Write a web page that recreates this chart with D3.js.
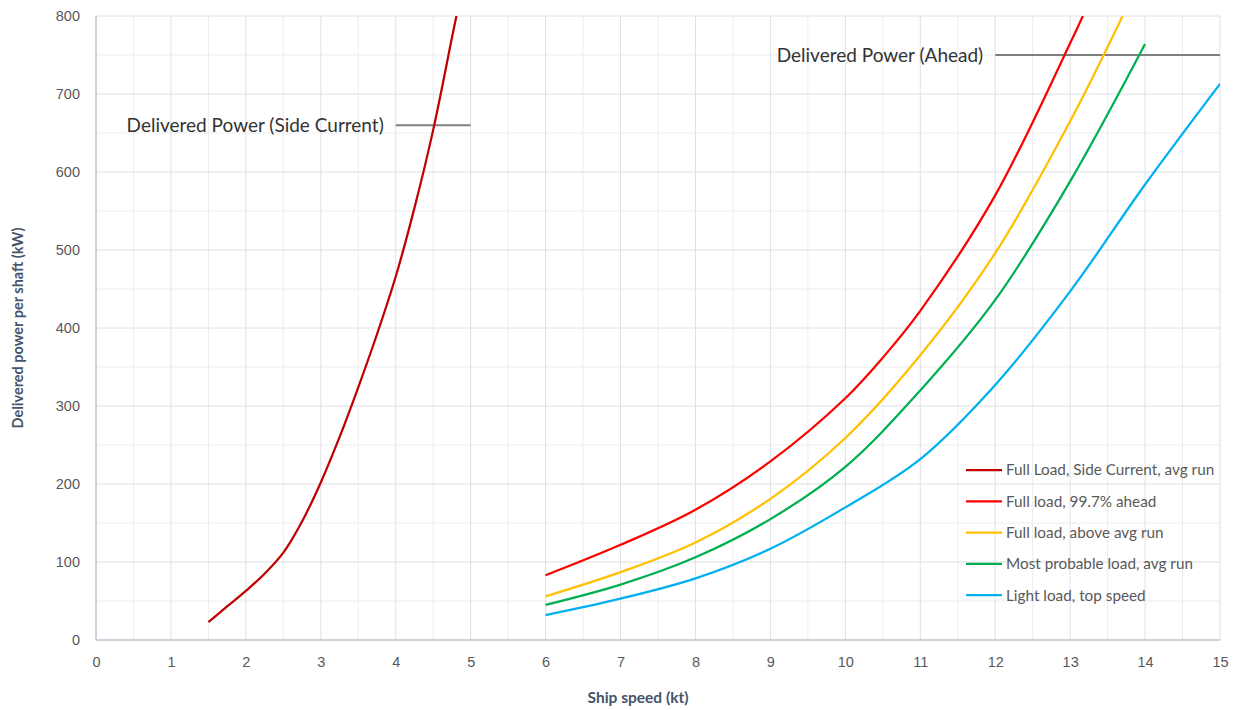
<!DOCTYPE html>
<html>
<head>
<meta charset="utf-8">
<script src="https://cdn.jsdelivr.net/npm/d3@7"></script>
<style>
  body { margin: 0; background: #fff; }
  svg { font-family: Lato, "Open Sans", sans-serif; }
</style>
</head>
<body>
<svg width="1238" height="710"></svg>
<script>
//-- data --//
const sideCurrent = [[1.5, 23], [1.75, 43], [2, 63], [2.25, 85], [2.5, 112], [2.75, 152], [3, 202],
  [3.25, 260], [3.5, 324], [3.75, 392], [4, 466], [4.25, 554], [4.5, 654], [4.75, 772], [4.81, 800]];
const fullAhead = [[6, 83], [7, 122], [8, 167], [9, 229], [10, 310], [10.5, 362], [11, 422], [12, 570],
  [13, 765], [13.17, 800]];
const fullAboveAvg = [[6, 56], [7, 87], [8, 125], [9, 181], [10, 259], [11, 365], [12, 496], [13, 665],
  [13.7, 800]];
const mostProbable = [[6, 45], [7, 71], [8, 106], [9, 155], [10, 222], [11, 320], [12, 436], [13, 588],
  [14, 764]];
const lightLoad = [[6, 32], [7, 53], [8, 79], [9, 117], [10, 170], [11, 232], [12, 327], [13, 447],
  [14, 584], [15, 713]];

const seriesNames = ["Full Load, Side Current, avg run", "Full load, 99.7% ahead", "Full load, above avg run",
  "Most probable load, avg run", "Light load, top speed"];
const seriesColors = ["#c00000", "#ff0000", "#ffc000", "#00b050", "#00b0f0"];

const xTicks = d3.range(0, 16);
const yTicks = d3.range(0, 900, 100);

// reference lines: [label, speed from, speed to, power]
const refLines = [["Delivered Power (Side Current)", 4, 5, 660], ["Delivered Power (Ahead)", 12, 15, 750]];

const series = [sideCurrent, fullAhead, fullAboveAvg, mostProbable, lightLoad]
  .map((values, i) => ({name: seriesNames[i], color: seriesColors[i], values}));

const margin = {top: 16, right: 18, bottom: 70, left: 96};
const width = 1238;
const height = 710;

const x = d3.scaleLinear()
  .domain([0, 15])
  .range([margin.left, width - margin.right]);

const y = d3.scaleLinear()
  .domain([0, 800])
  .range([height - margin.bottom, margin.top]);

const svg = d3.select("svg");

//-- grid --//
const grid = svg.append("g");
grid.selectAll(".vminor")
  .data(d3.range(0.5, 15, 1))
  .join("line")
  .attr("x1", d => x(d)).attr("x2", d => x(d))
  .attr("y1", y(0)).attr("y2", y(800))
  .attr("stroke", "#ededf0");
grid.selectAll(".hminor")
  .data(d3.range(50, 800, 100))
  .join("line")
  .attr("y1", d => y(d)).attr("y2", d => y(d))
  .attr("x1", x(0)).attr("x2", x(15))
  .attr("stroke", "#ededf0");
grid.selectAll(".vmajor")
  .data(xTicks.slice(1))
  .join("line")
  .attr("x1", d => x(d)).attr("x2", d => x(d))
  .attr("y1", y(0)).attr("y2", y(800))
  .attr("stroke", "#dfe0e6");
grid.selectAll(".hmajor")
  .data(yTicks.slice(1))
  .join("line")
  .attr("y1", d => y(d)).attr("y2", d => y(d))
  .attr("x1", x(0)).attr("x2", x(15))
  .attr("stroke", "#dfe0e6");

//-- axes --//
const xAxis = g => g
  .attr("transform", `translate(0,${y(0)})`)
  .call(d3.axisBottom(x).tickValues(xTicks).tickSize(0).tickPadding(17))
  .call(g => g.select(".domain").remove())
  .call(g => g.selectAll("text").attr("fill", "#595959").style("font-size", "14.5px"));

const yAxis = g => g
  .attr("transform", `translate(${x(0)},0)`)
  .call(d3.axisLeft(y).tickValues(yTicks).tickSize(0).tickPadding(16))
  .call(g => g.select(".domain").remove())
  .call(g => g.selectAll("text").attr("fill", "#595959").style("font-size", "14.5px"));

svg.append("g").call(xAxis);
svg.append("g").call(yAxis);

svg.append("line")
  .attr("x1", x(0)).attr("x2", x(15))
  .attr("y1", y(0)).attr("y2", y(0))
  .attr("stroke", "#bfc3d0").attr("stroke-width", 1.5);
svg.append("line")
  .attr("x1", x(0)).attr("x2", x(0))
  .attr("y1", y(0)).attr("y2", y(800))
  .attr("stroke", "#bfc3d0").attr("stroke-width", 1.5);

svg.append("text")
  .attr("x", 638).attr("y", 703)
  .attr("text-anchor", "middle")
  .attr("fill", "#44546a")
  .style("font-size", "15.5px").style("font-weight", "bold")
  .text("Ship speed (kt)");

svg.append("text")
  .attr("transform", `translate(23,${(y(0) + y(800)) / 2}) rotate(-90)`)
  .attr("text-anchor", "middle")
  .attr("fill", "#44546a")
  .style("font-size", "14.5px").style("font-weight", "bold")
  .text("Delivered power per shaft (kW)");

//-- reference lines --//
const refs = svg.append("g")
  .selectAll("g")
  .data(refLines)
  .join("g");

refs.append("line")
  .attr("x1", d => x(d[1])).attr("x2", d => x(d[2]))
  .attr("y1", d => y(d[3])).attr("y2", d => y(d[3]))
  .attr("stroke", "#7f7f7f").attr("stroke-width", 2);

refs.append("text")
  .attr("x", d => x(d[1]) - 12)
  .attr("y", d => y(d[3]))
  .attr("dy", "0.35em")
  .attr("text-anchor", "end")
  .attr("fill", "#333")
  .style("font-size", "19px")
  .text(d => d[0]);

//-- curves --//
svg.append("clipPath").attr("id", "plot")
  .append("rect")
  .attr("x", x(0)).attr("y", y(800))
  .attr("width", x(15) - x(0)).attr("height", y(0) - y(800));

const line = d3.line()
  .x(d => x(d[0]))
  .y(d => y(d[1]))
  .curve(d3.curveCatmullRom.alpha(0.5));

svg.append("g")
  .attr("clip-path", "url(#plot)")
  .selectAll("path")
  .data(series)
  .join("path")
  .attr("fill", "none")
  .attr("stroke", d => d.color)
  .attr("stroke-width", 2.25)
  .attr("stroke-linejoin", "round")
  .attr("d", d => line(d.values));

//-- legend --//
const legend = svg.append("g")
  .selectAll("g")
  .data(series)
  .join("g")
  .attr("transform", (d, i) => `translate(966,${470 + i * 31.3})`);

legend.append("line")
  .attr("x1", 0).attr("x2", 36)
  .attr("stroke", d => d.color)
  .attr("stroke-width", 2.25);

legend.append("text")
  .attr("x", 40)
  .attr("dy", "0.35em")
  .attr("fill", "#595959")
  .style("font-size", "15.3px")
  .text(d => d.name);
</script>
</body>
</html>
